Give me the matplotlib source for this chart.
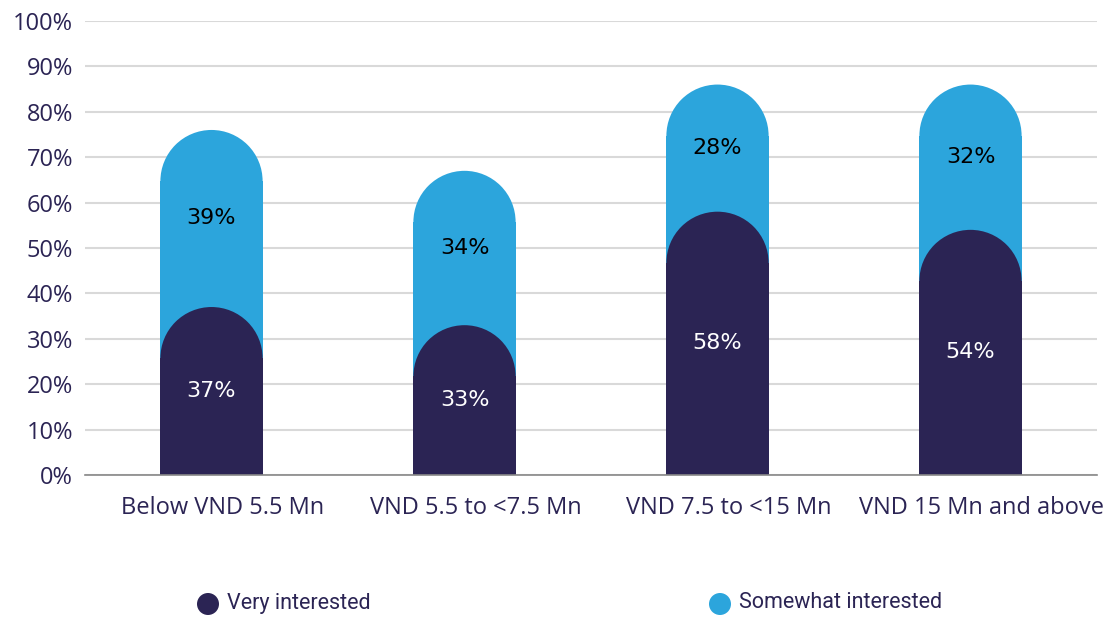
import matplotlib
matplotlib.use("Agg")
import matplotlib.pyplot as plt
import matplotlib.transforms as mtransforms
from matplotlib.patches import Rectangle, Ellipse

categories = ["Below VND 5.5 Mn", "VND 5.5 to <7.5 Mn", "VND 7.5 to <15 Mn", "VND 15 Mn and above"]
very = [37, 33, 58, 54]
somewhat = [39, 34, 28, 32]
series_names = ["Very interested", "Somewhat interested"]
yticks = [0, 10, 20, 30, 40, 50, 60, 70, 80, 90, 100]

NAVY = "#2B2454"
BLUE = "#2CA5DC"
TXT = "#2B2454"

W, H = 1114, 619
fig = plt.figure(figsize=(W / 100, H / 100), dpi=100)
ax_l, ax_r, ax_t, ax_b = 85, 1097, 21, 475
ax = fig.add_axes([ax_l / W, 1 - ax_b / H, (ax_r - ax_l) / W, (ax_b - ax_t) / H])
ax.set_xlim(-0.5, len(categories) - 0.5)
ax.set_ylim(0, 100)

bw = 0.404
px_per_x = (ax_r - ax_l) / len(categories)
px_per_y = (ax_b - ax_t) / 100.0
cap_h = (bw * px_per_x / 2) / px_per_y  # semicircle radius in y units


def rounded_bar(x, top, color, z):
    rect_top = max(top - cap_h, 0)
    ax.add_patch(Rectangle((x - bw / 2, 0), bw, rect_top, facecolor=color, edgecolor="none", zorder=z))
    ax.add_patch(Ellipse((x, rect_top), bw, 2 * cap_h, facecolor=color, edgecolor="none", zorder=z))


for i, (v, s) in enumerate(zip(very, somewhat)):
    total = v + s
    rounded_bar(i, total, BLUE, 2)
    rounded_bar(i, v, NAVY, 3)
    ax.text(i, v / 2, f"{v}%", ha="center", va="center", color="white", fontsize=16,
            family="DejaVu Sans", zorder=5)
    ax.text(i, v + s / 2, f"{s}%", ha="center", va="center", color="black", fontsize=16,
            family="DejaVu Sans", zorder=5)

ax.set_yticks(yticks)
ax.set_yticklabels([f"{t}%" for t in yticks])
ax.yaxis.grid(True, color="#d9d9d9", linewidth=1.5, zorder=0)
ax.set_axisbelow(True)
ax.set_xticks(range(len(categories)))
ax.set_xticklabels(categories)
for sp in ["top", "right", "left"]:
    ax.spines[sp].set_visible(False)
ax.spines["bottom"].set_color("#888888")
ax.spines["bottom"].set_linewidth(1.2)
ax.spines["bottom"].set_zorder(6)
ax.tick_params(axis="both", length=0, colors=TXT, labelsize=17)
ax.tick_params(axis="x", pad=15)
ax.tick_params(axis="y", pad=8.5)
shift = mtransforms.ScaledTranslation(11 / 100, 0, fig.dpi_scale_trans)
for lab in ax.get_xticklabels():
    lab.set_transform(lab.get_transform() + shift)
for lab in ax.get_xticklabels() + ax.get_yticklabels():
    lab.set_family("Open Sans")
    lab.set_color(TXT)

# legend
leg_items = [(208, series_names[0], NAVY), (720, series_names[1], BLUE)]
for xc, name, col in leg_items:
    fig.patches.append(Ellipse((xc / W, 1 - 604 / H), 22 / W, 22 / H, transform=fig.transFigure,
                               facecolor=col, edgecolor="none"))
    fig.text((xc + 19) / W, 1 - 603 / H, name, ha="left", va="center", color=TXT, fontsize=15.5,
             family="Roboto")

fig.savefig("out.png", dpi=100)
